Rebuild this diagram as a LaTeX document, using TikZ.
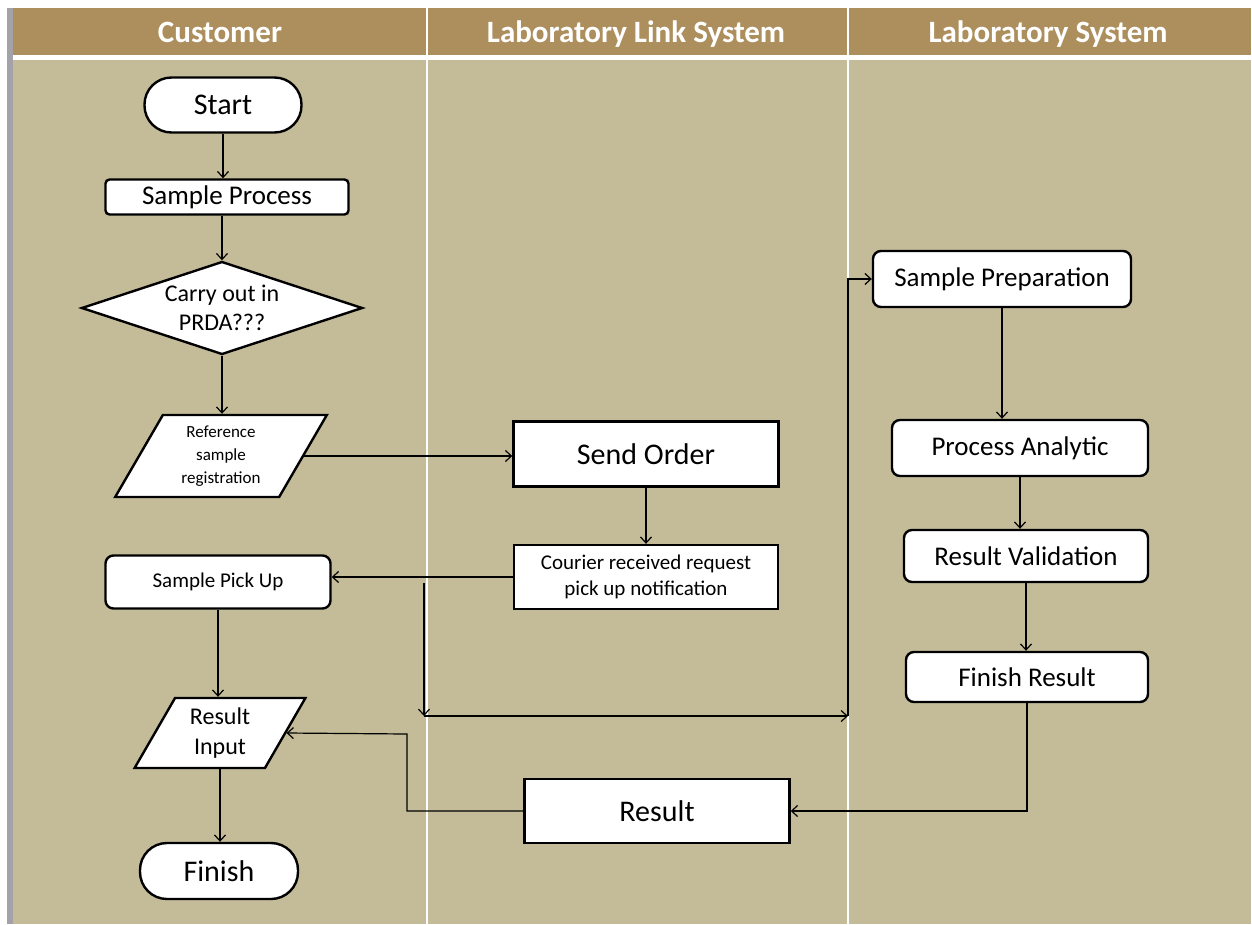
\documentclass[tikz,border=0pt]{standalone}
\usepackage{fontspec}
\setmainfont{Carlito}
\usetikzlibrary{shapes.geometric,arrows.meta}
\definecolor{hd}{HTML}{AD8F5E}
\definecolor{bg}{HTML}{C4BC98}
\definecolor{lb}{HTML}{A2A2A8}
\newcommand\fsz[2]{\fontsize{#1}{#2}\selectfont}
\tikzset{
  box/.style={draw,fill=white,line width=2.4pt,inner sep=1pt,align=center},
  rbox/.style={box,rounded corners=8pt},
  pill/.style={box,rounded corners=27pt},
  para/.style={box,trapezium,trapezium left angle=62,trapezium right angle=118,trapezium stretches=true},
  decide/.style={box,diamond,aspect=3,inner sep=0pt},
  head/.style={text=white,font=\fsz{31}{34}\bfseries,text height=21pt,text depth=6pt}
}
\begin{document}
\begin{tikzpicture}[>={Straight Barb[length=6pt,width=11pt]},x=1pt,y=-1pt,line width=1.2pt]
		\fill[white] (0,0) rectangle (1252,924);
		\useasboundingbox (0,0) rectangle (1252,924);
		\fill[lb] (7,8) rectangle (13,924);
		\fill[hd] (13,8) rectangle (1251,55);
		\fill[bg] (13,60) rectangle (1251,924);
		\draw[white,line width=2pt] (427,8)--(427,924) (848,8)--(848,924);
		\node[head] (hcust) at (220,35) {Customer};
		\node[head] (hlink) at (636,35) {Laboratory Link System};
		\node[head] (hlab) at (1048,35) {Laboratory System};
		\node[pill,minimum width=157,minimum height=55,font=\fsz{30}{34}] (start) at (223,105) {Start};
		\node[box,rounded corners=4pt,minimum width=243,minimum height=35,font=\fsz{27}{30}] (proc) at (227,197) {Sample Process};
		\node[decide,minimum width=281,minimum height=93,font=\fsz{24}{29}] (carry) at (222,308) {Carry out in\\PRDA???};
		\node[para,minimum width=212,minimum height=82,font=\fsz{17}{23}] (refreg) at (221,456) {Reference\\sample\\registration};
		\node[rbox,minimum width=225,minimum height=53,font=\fsz{21}{24}] (pickup) at (218,582) {Sample Pick Up};
		\node[para,minimum width=171,minimum height=70,font=\fsz{24}{30}] (resin) at (220,733) {Result\\Input};
		\node[pill,minimum width=158,minimum height=56,font=\fsz{30}{34}] (finish) at (219,871) {Finish};
		\node[box,minimum width=265,minimum height=65,font=\fsz{30}{34}] (send) at (646,454) {Send Order};
		\node[box,minimum width=264,minimum height=64,font=\fsz{21}{26}] (courier) at (646,577) {Courier received request\\pick up notification};
		\node[box,minimum width=265,minimum height=64,font=\fsz{30}{34}] (result) at (657,811) {Result};
		\node[rbox,minimum width=258,minimum height=56,font=\fsz{27}{30}] (prep) at (1002,279) {Sample Preparation};
		\node[rbox,minimum width=256,minimum height=56,font=\fsz{27}{30}] (analytic) at (1020,448) {Process Analytic};
		\node[rbox,minimum width=244,minimum height=52,font=\fsz{27}{30}] (valid) at (1026,556) {Result Validation};
		\node[rbox,minimum width=242,minimum height=50,font=\fsz{27}{30}] (finres) at (1027,677) {Finish Result};
		\coordinate (b1) at (424,583);
		\coordinate (b2) at (424,716);
		\coordinate (b3) at (848,716);
		\coordinate (rt) at (407,734);
		\draw[->] (start.south)--(start.south |- proc.north);
		\draw[->] (carry.north |- proc.south)--(carry.north);
		\draw[->] (carry.south)--(carry.south |- refreg.north);
		\draw[->] (refreg.east)--(refreg.east -| send.west);
		\draw[->] (send.south)--(courier.north);
		\draw[->] (courier.west)--(courier.west -| pickup.east);
		\draw[->] (b1)--(b2);
		\draw[->] (b2)--(b3);
		\draw[->] (b3) |- (prep.west);
		\draw[->] (pickup.south)--(pickup.south |- resin.north);
		\draw[->] (resin.south)--(resin.south |- finish.north);
		\draw[->] (prep.south)--(prep.south |- analytic.north);
		\draw[->] (analytic.south)--(analytic.south |- valid.north);
		\draw[->] (valid.south)--(valid.south |- finres.north);
		\draw[->] (finres.south) |- (result.east);
		\draw[->] (result.west) -| (rt)--(resin.east);
	\end{tikzpicture}
\end{document}
